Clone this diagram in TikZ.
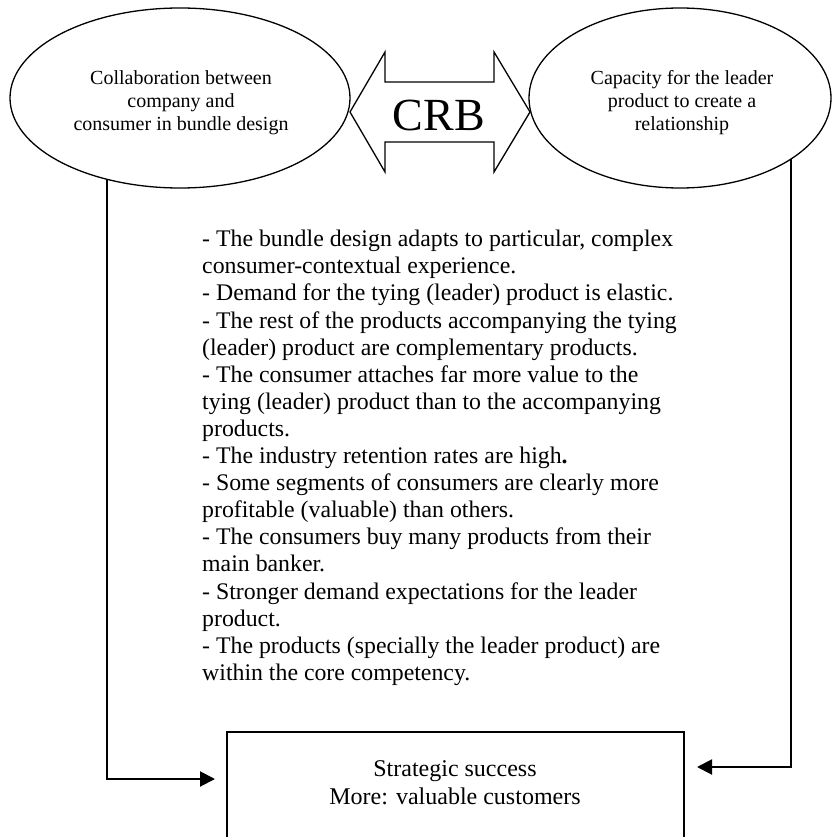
\documentclass[tikz,border=0pt]{standalone}
\usepackage{fontspec}
\setmainfont{Liberation Serif}
\usetikzlibrary{shapes.geometric,arrows.meta}
\begin{document}
\begin{tikzpicture}[x=1pt,y=-1pt,
  oval/.style={ellipse,draw,line width=1.3pt,inner sep=0pt,outer sep=0pt},
  ovaltext/.style={align=center,inner sep=0pt,font=\fontsize{20}{23}\selectfont},
  conn/.style={line width=2pt,-{Triangle[length=15pt,width=15pt]}},
  boxstyle/.style={draw,line width=2pt,inner sep=0pt,outer sep=0pt,anchor=north west},
  bodytext/.style={align=left,inner sep=0pt,anchor=north west,font=\fontsize{23.8}{27.1}\selectfont},
]
\useasboundingbox (0,0) rectangle (832,837);
\clip (0,0) rectangle (832,837);
\fill[white] (0,0) rectangle (832,837);

% ellipses
\node[oval,minimum width=340pt,minimum height=180pt] (L) at (180,98) {};
\node[ovaltext] (Ltext) at (181,103)
  {Collaboration between\\company and\\consumer in bundle design};
\node[oval,minimum width=302pt,minimum height=180pt] (R) at (680,98) {};
\node[ovaltext] (Rtext) at (682,103)
  {Capacity for the leader\\product to create a\\relationship};

% double arrow
\draw[line width=1.3pt,line join=miter] (350,112) -- (385,52) -- (385,82) -- (494,82) -- (494,52)
  -- (530,112) -- (494,172) -- (494,142) -- (385,142) -- (385,172) -- cycle;
\node[inner sep=0pt,font=\fontsize{46}{50}\selectfont] (crb) at (439,115) {CRB};

% body text
\node[bodytext] (body) at (202,230) {- The bundle design adapts to particular, complex\\
consumer-contextual experience.\\
- Demand for the tying (leader) product is elastic.\\
- The rest of the products accompanying the tying\\
(leader) product are complementary products.\\
- The consumer attaches far more value to the\\
tying (leader) product than to the accompanying\\
products.\\
- The industry retention rates are high\textbf{.}\\
- Some segments of consumers are clearly more\\
profitable (valuable) than others.\\
- The consumers buy many products from their\\
main banker.\\
- Stronger demand expectations for the leader\\
product.\\
- The products (specially the leader product) are\\
within the core competency.};

% result box
\node[boxstyle,minimum width=457pt,minimum height=130pt] (box) at (227,732) {};
\node[align=center,inner sep=0pt,font=\fontsize{24}{28}\selectfont] (boxtext) at (455,783)
  {Strategic success\\More: valuable customers};

% connectors
\coordinate (la) at (215,779);
\coordinate (ra) at (697,767);
\draw[conn] (L.228) |- (la);
\draw[conn] (R.331.4) |- (ra);
\end{tikzpicture}
\end{document}
